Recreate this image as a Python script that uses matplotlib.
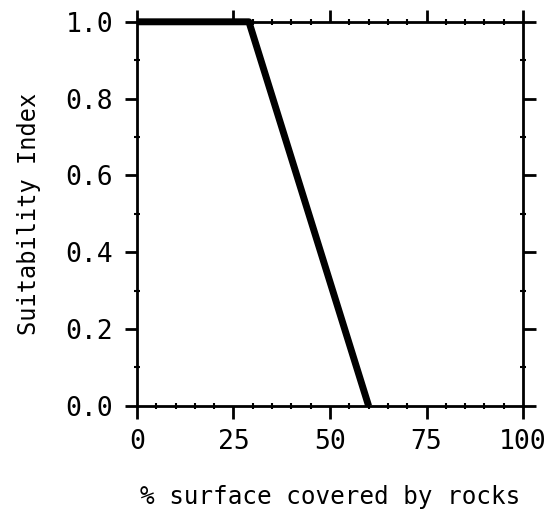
import numpy as np
import matplotlib.pyplot as plt

# Daten: Eignungsindex gegen Felsbedeckung
rock_cover = [0, 29, 60]
suitability = [1.0, 1.0, 0.0]

xticks = [0, 25, 50, 75, 100]
yticks = [0.0, 0.2, 0.4, 0.6, 0.8, 1.0]

plt.rcParams['font.family'] = ['DejaVu Sans Mono']

fig = plt.figure(figsize=(5.5, 5.19), dpi=100)
ax = fig.add_axes([0.249, 0.218, 0.702, 0.740])

ax.plot(rock_cover, suitability, color='black', linewidth=5, solid_capstyle='butt',
        clip_on=False)

ax.set_xlim(0, 100)
ax.set_ylim(0, 1)
ax.set_xticks(xticks)
ax.set_yticks(yticks)
ax.set_yticklabels([f'{v:.1f}' for v in yticks])
ax.set_xticks(np.arange(0, 101, 5), minor=True)
ax.set_yticks(np.arange(0, 1.01, 0.1), minor=True)
ax.tick_params(which='major', direction='out', length=9, width=2, labelsize=19,
               top=True, right=True, pad=8)
ax.tick_params(which='minor', direction='inout', length=5, width=1.5,
               top=True, right=True)
for s in ax.spines.values():
    s.set_linewidth(2)

ax.set_xlabel('% surface covered by rocks', fontsize=17.5, labelpad=21)
ax.set_ylabel('Suitability Index', fontsize=17, labelpad=18)

plt.savefig('out.png', dpi=100)
